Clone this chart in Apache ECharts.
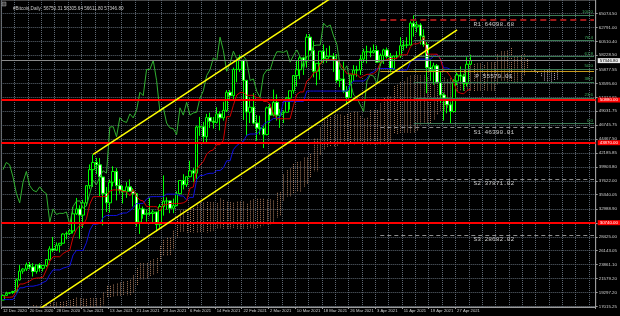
<!DOCTYPE html>
<html><head><meta charset="utf-8">
<script src="https://cdn.jsdelivr.net/npm/echarts@6/dist/echarts.min.js"></script>
<style>html,body{margin:0;padding:0;background:#000;}#c{width:620px;height:316px;}</style>
</head><body><div id="c"></div>
<script>
// ---------- DATA (daily bars, 20 Sep 2020 .. 1 May 2021; bars before 12 Dec 2020 only feed the Ichimoku windows) ----------
const firstDateUTC = Date.UTC(2020, 8, 20);
const firstShownBar = 83; // 12 Dec 2020
const titleText = '#Bitcoin,Daily  56750.31 58305.64 56611.80 57346.80';

const open = [
 11080,10930,10420,10530,10240,10740,10690,10730,10775,10710,10840,
 10780,10620,10570,10550,10670,10790,10600,10670,10920,11060,11300,11380,11550,11430,11430,11500,11330,11370,11520,11750,11920,12820,12970,12930,13120,13030,13070,13650,13280,13460,13560,
 13800,13760,13550,14020,14150,15590,15580,14840,15480,15330,15300,15700,16280,16320,16070,15960,16720,17650,17800,17820,18650,18680,18370,18360,19110,18730,17150,17140,17720,18180,
 19700,18800,19200,19440,18700,19150,19360,19170,18320,18550,18250,
 18040,18810,19150,19270,19440,21350,22800,23130,23850,23480,22720,23820,23250,23720,24690,26440,26250,27040,27370,28880,
 28990,29390,32200,33000,31990,33990,36820,39450,40630,40240,38240,35550,34000,37400,39150,36830,36050,35820,36630,35900,35500,30830,33000,32100,32290,32260,32500,30430,33400,34280,34320,
 33110,33540,35500,37660,36980,38290,39260,38870,46450,46500,44850,47990,47400,47200,48600,47950,49180,52150,51600,55900,55900,57400,54100,48900,49700,47100,46300,46200,
 45200,49600,48400,50500,48400,48760,48880,51200,52400,54900,55850,57800,57300,61200,59000,55600,56900,58900,57650,58030,58100,57350,54100,54340,52300,51300,55000,55800,55800,57600,58800,
 58800,58700,59000,57100,58200,59100,58000,56000,58100,58100,59800,59900,59900,63500,62900,63200,61400,60000,56200,55700,56500,53800,51700,51200,50100,49000,54000,55000,54800,53600,
 56750.31];
const high = [
 11090,10990,10580,10550,10790,10770,10790,10800,10950,10860,10850,
 10930,10650,10600,10690,10800,10800,10690,10950,11110,11490,11430,11720,11560,11550,11630,11540,11400,11520,11820,12000,13200,13190,13030,13160,13340,13250,13780,13860,13630,13680,14080,
 13900,13820,14070,14250,15760,15960,15770,15640,15840,15460,15950,16330,16480,16320,16140,16880,17850,18480,18110,18800,18960,18700,18770,19390,19480,18920,17460,17880,18300,19850,
 19920,19310,19570,19530,19180,19420,19410,19290,18640,18560,18270,
 18950,19410,19330,19560,21560,23770,23270,24200,24300,24100,23830,24100,23800,24770,26870,28400,27500,27400,28990,29300,
 29680,33300,34800,33600,34500,36900,40300,41950,41380,41350,38260,36600,37800,40000,39700,37900,36800,37400,37850,36400,35600,33800,33400,32950,34800,32900,32550,33800,38500,34900,34400,
 34700,35900,37700,38700,38300,40900,39700,46700,48100,47300,48600,48800,48100,49700,49000,50600,52500,52500,56200,57500,58300,57500,54200,51300,52000,48400,48300,46600,
 49800,50200,52600,51800,49400,49200,51400,52400,54900,57300,58100,58000,61700,61700,60600,56900,58900,60000,59400,59800,58600,58400,55800,57200,53200,55000,56600,56500,58300,59300,59800,
 59500,60000,59800,58500,59300,59500,58600,58200,58900,61200,60700,61200,63800,64800,63800,63500,62500,60400,57500,57000,56800,55500,52100,51200,50500,54300,55400,56400,55200,57900,
 58305.64];
const low = [
 10800,10370,10350,10150,10200,10590,10640,10620,10640,10650,10680,
 10430,10370,10510,10520,10630,10550,10560,10540,10830,11050,11270,11240,11310,11280,11270,11250,11310,11340,11430,11690,11900,12700,12730,12900,12920,12800,13050,12950,12990,13130,13420,
 13620,13240,13300,13540,14100,15200,14420,14720,14840,15080,15280,15470,15990,15720,15870,15880,16570,17220,17350,17760,18350,17720,18000,18080,18570,16330,16570,16880,17560,18180,
 18330,18350,18960,18590,18550,18900,18900,18200,17650,17930,17580,
 18020,18730,19000,19050,19290,21230,22350,22800,23070,21900,22370,22700,22720,23450,24500,25900,26100,25850,27320,28010,
 28710,28970,32000,28100,29900,33450,36300,36600,38720,35100,30300,32500,32400,36700,34400,35500,33900,34800,35900,33400,30100,28900,31400,30900,31900,30850,29300,29900,31900,32900,32300,
 32300,33450,35400,36200,36600,38200,37400,37950,45000,43800,43800,46300,46200,47050,45900,47500,48900,50900,50800,53800,55500,47600,45000,47100,46900,44200,45200,43000,
 45100,47100,48200,47500,46300,47100,48900,49300,51900,53100,54300,55000,56200,59000,54600,53300,54200,56900,57000,57900,55500,53700,53000,52000,50400,51300,54000,54700,55000,57000,56900,
 57900,58500,57000,56500,56800,57700,55400,55900,57700,57800,59000,59400,59800,61300,62000,60000,59600,52000,54100,53400,53600,50400,47500,48700,47000,48800,53300,53900,52400,53100,
 56611.80];
const close = [
 10930,10420,10530,10240,10740,10690,10730,10775,10710,10840,10780,
 10620,10570,10550,10670,10790,10600,10670,10920,11060,11300,11380,11550,11430,11430,11500,11330,11370,11520,11750,11920,12820,12970,12930,13120,13030,13070,13650,13280,13460,13560,13800,
 13760,13550,14020,14150,15590,15580,14840,15480,15330,15300,15700,16280,16320,16070,15960,16720,17650,17800,17820,18650,18680,18370,18360,19110,18730,17150,17140,17720,18180,19700,
 18800,19200,19440,18700,19150,19360,19170,18320,18550,18250,18040,
 18810,19150,19270,19440,21350,22800,23130,23850,23480,22720,23820,23250,23720,24690,26440,26250,27040,27370,28880,28990,
 29390,32200,33000,31990,33990,36820,39450,40630,40240,38240,35550,34000,37400,39150,36830,36050,35820,36630,35900,35500,30830,33000,32100,32290,32260,32500,30430,33400,34280,34320,33110,
 33540,35500,37660,36980,38290,39260,38870,46450,46500,44850,47990,47400,47200,48600,47950,49180,52150,51600,55900,55900,57400,54100,48900,49700,47100,46300,46200,45200,
 49600,48400,50500,48400,48760,48880,51200,52400,54900,55850,57800,57300,61200,59000,55600,56900,58900,57650,58030,58100,57350,54100,54340,52300,51300,55000,55800,55800,57600,58800,58800,
 58700,59000,57100,58200,59100,58000,56000,58100,58100,59800,59900,59900,63500,62900,63200,61400,60000,56200,55700,56500,53800,51700,51200,50100,49000,54000,55000,54800,53600,56750,
 57346.80];

const xTickLabels = ['12 Dec 2020','20 Dec 2020','28 Dec 2020','5 Jan 2021','13 Jan 2021','21 Jan 2021','29 Jan 2021','6 Feb 2021','14 Feb 2021','22 Feb 2021','2 Mar 2021','10 Mar 2021','18 Mar 2021','26 Mar 2021','3 Apr 2021','11 Apr 2021','19 Apr 2021','27 Apr 2021'];
const yTicks = [17015.25,19297.20,21579.20,23861.10,26143.05,28425.00,30706.95,32988.90,35340.05,37622.00,39903.80,42185.85,44467.50,46745.75,49031.75,51313.65,53595.60,55877.55,58228.50,60510.40,62791.00,65074.50];

const redLevels = [50880, 43870, 30740];
const currentPrice = 57346.80;
const pivotNames = ['R1','P','S1','S2','S3'];
const pivotValues = [64098.68, 55579.01, 46390.01, 37871.02, 28682.02];
const pivotStart = '4 Apr 2021';
const fibNames = ['100.0','76.4','61.8','50.0','38.2','23.6','0.0'];
const fibValues = [64850, 60640, 58030, 55930, 53820, 51210, 47000];
const fibStart = '14 Apr 2021';
const upperChannel = [['8 Jan 2021', 41950], ['20 Mar 2021', 67520]];
const lowerChannel = [['23 Dec 2020', 16610], ['27 Apr 2021', 62410]];
const pivotLabelDate = '8 May 2021';

// ---------- build ----------
const months = ['Jan','Feb','Mar','Apr','May','Jun','Jul','Aug','Sep','Oct','Nov','Dec'];
const DAY = 86400000;
function fmt(t){const d=new Date(t);return d.getUTCDate()+' '+months[d.getUTCMonth()]+' '+d.getUTCFullYear();}
const nBars = close.length;
const shownCount = 178;
const SHIFT = 26;
const dateLabels = [];
for (let j=0;j<shownCount;j++) dateLabels.push(fmt(firstDateUTC + (firstShownBar+j)*DAY));

function mid(i,n){ if(i-n+1<0||i>=nBars) return null; let h=-Infinity,l=Infinity; for(let k=i-n+1;k<=i;k++){ if(high[k]>h)h=high[k]; if(low[k]<l)l=low[k]; } return (h+l)/2; }
const candles=[], tenkan=[], kijun=[], chikou=[], cloud=[];
for (let j=0;j<shownCount;j++){
  const i = firstShownBar+j;
  candles.push(i<nBars ? [open[i],close[i],low[i],high[i]] : '-');
  tenkan.push(i<nBars ? mid(i,9) : null);
  kijun.push(i<nBars ? mid(i,26) : null);
  chikou.push(i+SHIFT<nBars ? close[i+SHIFT] : null);
  const s=i-SHIFT;
  if (s>=0 && s<nBars){ const t=mid(s,9),k=mid(s,26),b=mid(s,52); if(t!=null&&k!=null&&b!=null) cloud.push([j,(t+k)/2,b]); }
}
const lastLabel = dateLabels[shownCount-1];
const FONT = 'Liberation Sans';

const chart = echarts.init(document.getElementById('c'), null, {renderer:'canvas'});
chart.setOption({
  animation:false,
  backgroundColor:'#000',
  title:{text:titleText,left:8,top:1,textStyle:{fontSize:4.6,color:'#c8c8c8',fontWeight:'normal',fontFamily:FONT}},
  graphic:[{type:'rect',shape:{x:2,y:2,width:4,height:4},style:{fill:'#444',stroke:'#aaa',lineWidth:0.5}}],
  grid:{left:0,right:21,top:0,bottom:9,show:true,borderColor:'#8a8a8a',borderWidth:1,backgroundColor:'#000'},
  xAxis:{type:'category',data:dateLabels,boundaryGap:true,
    axisLine:{lineStyle:{color:'#9a9a9a'}},
    axisTick:{show:true,length:2,interval:(i,v)=>xTickLabels.includes(v),lineStyle:{color:'#9a9a9a'}},
    axisLabel:{interval:(i,v)=>xTickLabels.includes(v),align:'left',fontSize:4.2,margin:2,color:'#d0d0d0',fontFamily:FONT},
    splitLine:{show:true,interval:(i)=>i%4===0,lineStyle:{color:'#5e6873',type:[1,1],width:1}}},
  yAxis:{type:'value',position:'right',min:16900,max:67300,scale:true,
    axisLine:{show:true,lineStyle:{color:'#9a9a9a'}},
    axisTick:{show:true,length:2,customValues:yTicks,lineStyle:{color:'#9a9a9a'}},
    axisLabel:{customValues:yTicks,formatter:v=>v.toFixed(2),fontSize:4.4,margin:3,color:'#d0d0d0',fontFamily:FONT},
    splitLine:{show:false}},
  series:[
    {type:'line',name:'kijun',data:kijun,symbol:'none',z:4,lineStyle:{color:'#1010e0',width:1},
      markLine:{silent:true,symbol:'none',z:0,label:{show:false},lineStyle:{color:'#5e6873',type:[1,1],width:1},
        data:yTicks.map(v=>({yAxis:v}))}},
    {type:'custom',name:'cloud',data:cloud,z:1,encode:{x:0,y:[1,2]},
      renderItem:(params,api)=>{
        const cs=params.coordSys; const j=api.value(0),a=api.value(1),b=api.value(2);
        const p1=api.coord([j,a]), p2=api.coord([j,b]);
        const clamp=y=>Math.max(cs.y,Math.min(cs.y+cs.height,y));
        const y1=clamp(p1[1]), y2=clamp(p2[1]);
        if (Math.abs(y1-y2)<0.5) return null;
        const x=Math.round(p1[0])+0.5;
        return {type:'line',shape:{x1:x,y1:y1,x2:x,y2:y2},style:{stroke:a>=b?'#c8906c':'#d8bfd8',lineWidth:1,lineDash:[1,1],opacity:0.85}};
      }},
    {type:'candlestick',name:'price',data:candles,barWidth:3,z:3,
      itemStyle:{color:'#000',color0:'#fff',borderColor:'#00ff00',borderColor0:'#00ff00',borderColorDoji:'#00ff00',borderWidth:1},
      markLine:{silent:true,symbol:'none',z:6,
        data:[
          ...redLevels.map(v=>({yAxis:v,lineStyle:{color:'#ff0000',width:2,type:'solid'},
             label:{show:true,position:'end',distance:2,formatter:()=>v.toFixed(2),backgroundColor:'#ff0000',color:'#fff',fontSize:4.4,padding:[1,2,0,2],fontFamily:FONT}})),
          {yAxis:currentPrice,lineStyle:{color:'#8a8a8a',width:1,type:'solid'},
             label:{show:true,position:'end',distance:2,formatter:()=>currentPrice.toFixed(2),backgroundColor:'#e8e8e8',color:'#000',fontSize:4.4,padding:[1,2,0,2],fontFamily:FONT}}
        ]}},
    {type:'line',name:'tenkan',data:tenkan,symbol:'none',z:4,lineStyle:{color:'#d00000',width:1},
      markLine:{silent:true,symbol:'none',z:5,
        data:[
          ...pivotValues.map((v,k)=>[{coord:[pivotStart,v],lineStyle:k===0?{color:'#a01818',width:2,type:[6,4]}:(k===1?{color:'#c89b1e',width:1,type:'solid'}:{color:'#8c8c8c',width:1,type:[4,3]}),label:{show:false}},{coord:[lastLabel,v]}]),
          ...fibValues.map((v,k)=>[{coord:[fibStart,v],lineStyle:{color:'#3d7a55',width:1,type:'solid'},
             label:{show:true,position:'insideEndTop',distance:1,formatter:()=>fibNames[k],color:'#3fae5f',fontSize:4.4,fontFamily:FONT}},{coord:[lastLabel,v]}])
        ]}},
    {type:'line',name:'chikou',data:chikou,symbol:'none',z:4,lineStyle:{color:'#30b030',width:1}},
    {type:'line',name:'upper',data:upperChannel,symbol:'none',z:7,clip:true,lineStyle:{color:'#ffff00',width:1.5}},
    {type:'line',name:'lower',data:lowerChannel,symbol:'none',z:7,clip:true,lineStyle:{color:'#ffff00',width:1.5}},
    {type:'scatter',name:'pivotLabels',symbolSize:0,z:8,silent:true,
      data:pivotValues.map((v,k)=>[pivotLabelDate,v,pivotNames[k]+' '+v.toFixed(2)]),
      label:{show:true,position:'inside',offset:[0,4.5],formatter:p=>p.data[2],color:'#f0f0f0',fontSize:6.2,fontFamily:'Liberation Mono'}}
  ]
});
</script></body></html>
